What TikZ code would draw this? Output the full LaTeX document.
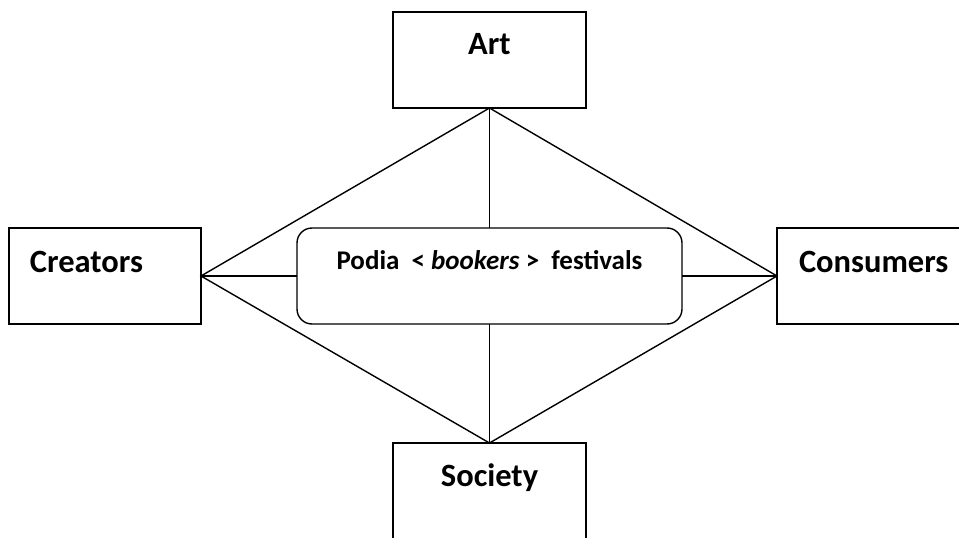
\documentclass[tikz,border=0pt]{standalone}
\usepackage{fontspec}
\setmainfont{Carlito}
\usepackage{tikz}

\begin{document}
\begin{tikzpicture}[x=1pt,y=1pt,line width=1.4pt]
\tikzstyle{every node}+=[inner sep=0pt, outer sep=0pt]
\tikzstyle{box}=[draw=black, line width=1.4pt, minimum height=96pt]
\tikzstyle{boxtext}=[font=\bfseries\fontsize{32.5}{38}\selectfont]
\useasboundingbox (0,0) rectangle (959,-538);
\clip (0,0) rectangle (959,-538);
\node [box, minimum width=193pt] (art) at (489.5,-60) {};
\node [boxtext] (artlabel) at (489.5,-44) {Art};
\node [box, minimum width=192pt] (creators) at (105,-276) {};
\node [boxtext, anchor=west] (creatorslabel) at (30,-262) {Creators};
\node [box, minimum width=198pt] (consumers) at (876,-276) {};
\node [boxtext, anchor=west] (consumerslabel) at (799,-262) {Consumers};
\node [box, minimum width=193pt, minimum height=117pt] (society) at (489.5,-501.5) {};
\node [boxtext, anchor=base] (societylabel) at (489.5,-486) {Society};
\node [box, minimum width=385pt, rounded corners=15pt] (podia) at (489.5,-276) {};
\node [anchor=base, font=\bfseries\fontsize{27}{32}\selectfont] (podialabel) at (489.5,-269)
  {Podia\ \ <\ \textit{bookers}\ >\ \ festivals};
\draw [black] (creators.east) -- (art.south) -- (consumers.west) -- (society.north) -- cycle;
\draw [black] (art.south) -- (podia.north);
\draw [black] (podia.south) -- (society.north);
\draw [black] (creators.east) -- (podia.west);
\draw [black] (podia.east) -- (consumers.west);
\end{tikzpicture}
\end{document}
